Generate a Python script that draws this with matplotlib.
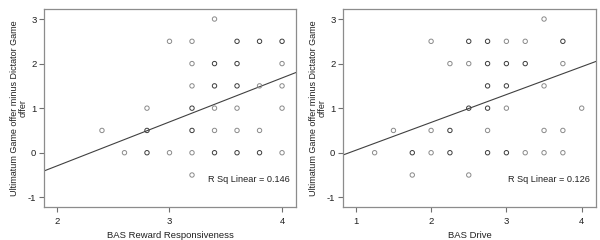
import numpy as np
import matplotlib
matplotlib.use("Agg")
from matplotlib import pyplot as plt

plt.rcParams['font.family'] = ['Liberation Sans', 'DejaVu Sans']
plt.rcParams['axes.unicode_minus'] = False

# left panel: BAS Reward Responsiveness
rr_x = [3.4,
        3.0, 3.2, 3.6, 3.8, 4.0,
        3.2, 3.4, 3.6, 4.0,
        3.2, 3.4, 3.6, 3.8, 4.0,
        2.8, 3.2, 3.4, 3.6, 4.0,
        2.4, 2.8, 3.2, 3.4, 3.6, 3.8,
        2.6, 2.8, 3.0, 3.2, 3.4, 3.6, 3.8, 4.0,
        3.2]
rr_y = [3.0,
        2.5, 2.5, 2.5, 2.5, 2.5,
        2.0, 2.0, 2.0, 2.0,
        1.5, 1.5, 1.5, 1.5, 1.5,
        1.0, 1.0, 1.0, 1.0, 1.0,
        0.5, 0.5, 0.5, 0.5, 0.5, 0.5,
        0.0, 0.0, 0.0, 0.0, 0.0, 0.0, 0.0, 0.0,
        -0.5]
# 1 = single case, 2 = overlapping cases (drawn darker)
rr_n = [1,
        1, 1, 2, 2, 2,
        1, 2, 2, 1,
        1, 2, 2, 1, 1,
        1, 2, 1, 1, 1,
        1, 2, 2, 1, 1, 1,
        1, 2, 1, 1, 2, 2, 2, 1,
        1]
rr_fit = (0.987, -2.27)
rr_r2 = 0.146

# right panel: BAS Drive
dr_x = [3.5,
        2.0, 2.5, 2.75, 3.0, 3.25, 3.75,
        2.25, 2.5, 2.75, 3.0, 3.25, 3.75,
        2.75, 3.0, 3.5,
        2.5, 2.75, 3.0, 4.0,
        1.5, 2.0, 2.25, 2.75, 3.5, 3.75,
        1.25, 1.75, 2.0, 2.25, 2.75, 3.0, 3.25, 3.5, 3.75,
        1.75, 2.5]
dr_y = [3.0,
        2.5, 2.5, 2.5, 2.5, 2.5, 2.5,
        2.0, 2.0, 2.0, 2.0, 2.0, 2.0,
        1.5, 1.5, 1.5,
        1.0, 1.0, 1.0, 1.0,
        0.5, 0.5, 0.5, 0.5, 0.5, 0.5,
        0.0, 0.0, 0.0, 0.0, 0.0, 0.0, 0.0, 0.0, 0.0,
        -0.5, -0.5]
dr_n = [1,
        1, 2, 2, 1, 1, 2,
        1, 1, 2, 2, 2, 1,
        2, 2, 1,
        2, 2, 1, 1,
        1, 1, 2, 1, 1, 1,
        1, 2, 1, 2, 2, 2, 1, 1, 1,
        1, 1]
dr_fit = (0.625, -0.57)
dr_r2 = 0.126

ylabel = "Ultimatum Game offer minus Dictator Game\noffer"

fig = plt.figure(figsize=(6, 2.4), dpi=100)
ax1 = fig.add_axes([44/600, 33/240, 252/600, 198/240])
ax2 = fig.add_axes([343/600, 33/240, 253/600, 198/240])

panels = [
    (ax1, rr_x, rr_y, rr_n, rr_fit, rr_r2, (1.885, 4.124), [2, 3, 4], "BAS Reward Responsiveness"),
    (ax2, dr_x, dr_y, dr_n, dr_fit, dr_r2, (0.83, 4.19), [1, 2, 3, 4], "BAS Drive"),
]

for ax, x, y, n, fit, r2, xlim, xticks, xlabel in panels:
    x = np.array(x)
    y = np.array(y)
    n = np.array(n)
    for cnt, col in [(1, '#8a8a8a'), (2, '#3c3c3c')]:
        m = n == cnt
        ax.scatter(x[m], y[m], s=10, facecolors='none', edgecolors=col, linewidths=0.7, zorder=3)
    xx = np.array(xlim)
    ax.plot(xx, fit[0]*xx + fit[1], color='#404040', lw=0.8, zorder=2)
    ax.set_xlim(xlim)
    ax.set_ylim(-1.218, 3.225)
    ax.set_xticks(xticks)
    ax.set_yticks([-1, 0, 1, 2, 3])
    ax.tick_params(direction='out', length=3.5, width=0.8, colors='#707070',
                   labelcolor='#202020', labelsize=6.8, pad=2)
    ax.tick_params(axis='x', pad=4)
    for s in ax.spines.values():
        s.set_color('#8c8c8c')
        s.set_linewidth(0.9)
    ax.set_xlabel(xlabel, fontsize=6.8, color='#202020', labelpad=3)
    ax.set_ylabel(ylabel, fontsize=6.5, color='#202020', labelpad=0, linespacing=1.0)
    ax.text(0.975, 0.14, f"R Sq Linear = {r2}", transform=ax.transAxes,
            ha='right', va='center', fontsize=6.6, color='#202020')

fig.savefig("out.png", dpi=100)
